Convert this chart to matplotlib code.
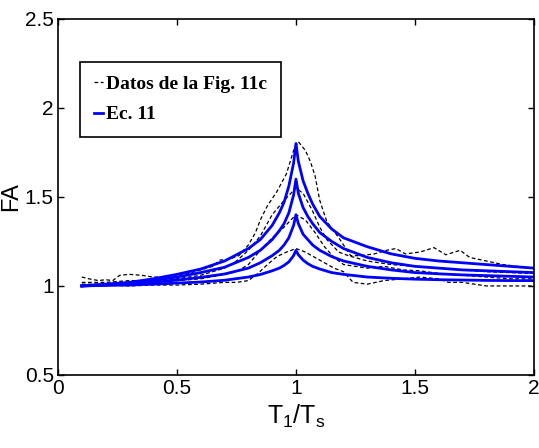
import numpy as np
import matplotlib
matplotlib.use("Agg")
import matplotlib.pyplot as plt

plt.rcParams['font.family'] = ['Liberation Sans', 'DejaVu Sans']
plt.rcParams['mathtext.fontset'] = 'custom'
plt.rcParams['mathtext.rm'] = 'Liberation Sans'

# Ec. 11 curves (blue)
x_eq = [0.1, 0.2, 0.3, 0.4, 0.5, 0.6, 0.7, 0.8, 0.85, 0.9, 0.93, 0.95, 0.97, 0.99, 1.0,
        1.01, 1.03, 1.05, 1.07, 1.1, 1.15, 1.2, 1.3, 1.4, 1.5, 1.6, 1.7, 1.8, 1.9, 2.0]
eq_18 = [1.00, 1.01, 1.02, 1.04, 1.065, 1.095, 1.14, 1.21, 1.26, 1.34, 1.41, 1.47, 1.56, 1.69, 1.80,
         1.70, 1.59, 1.52, 1.46, 1.39, 1.32, 1.27, 1.22, 1.18, 1.155, 1.14, 1.13, 1.12, 1.11, 1.10]
eq_16 = [1.00, 1.008, 1.016, 1.03, 1.05, 1.075, 1.105, 1.16, 1.20, 1.26, 1.31, 1.35, 1.41, 1.51, 1.60,
         1.52, 1.44, 1.39, 1.35, 1.30, 1.25, 1.21, 1.16, 1.13, 1.11, 1.10, 1.09, 1.085, 1.08, 1.075]
eq_14 = [1.00, 1.005, 1.01, 1.02, 1.033, 1.048, 1.067, 1.10, 1.13, 1.17, 1.20, 1.23, 1.27, 1.34, 1.40,
         1.35, 1.29, 1.26, 1.23, 1.20, 1.165, 1.14, 1.11, 1.09, 1.075, 1.068, 1.062, 1.058, 1.054, 1.05]
eq_12 = [1.00, 1.003, 1.005, 1.01, 1.016, 1.022, 1.032, 1.05, 1.064, 1.085, 1.10, 1.115, 1.135, 1.17, 1.20,
         1.175, 1.145, 1.125, 1.11, 1.095, 1.075, 1.065, 1.05, 1.043, 1.038, 1.035, 1.033, 1.031, 1.03, 1.03]

# Datos de la Fig. 11c (black dashed)
xa = [0.1, 0.13, 0.17, 0.2, 0.23, 0.26, 0.3, 0.35, 0.4, 0.45, 0.5, 0.55, 0.6, 0.65, 0.68,
      0.72, 0.76, 0.8, 0.83, 0.85, 0.88, 0.92, 0.96, 0.99, 1.01, 1.04, 1.06, 1.08, 1.1, 1.13,
      1.18, 1.23, 1.27, 1.33, 1.38, 1.42, 1.46, 1.52, 1.58, 1.63, 1.69, 1.73, 1.8, 1.87, 1.93, 2.0]
ya = [1.05, 1.04, 1.03, 1.035, 1.03, 1.06, 1.065, 1.06, 1.05, 1.05, 1.06, 1.07, 1.09, 1.11, 1.145,
      1.15, 1.17, 1.23, 1.30, 1.37, 1.45, 1.53, 1.63, 1.76, 1.81, 1.76, 1.70, 1.62, 1.48, 1.36,
      1.27, 1.17, 1.17, 1.18, 1.20, 1.21, 1.18, 1.19, 1.215, 1.175, 1.20, 1.16, 1.14, 1.12, 1.11, 1.10]

xb = [0.1, 0.2, 0.3, 0.4, 0.5, 0.6, 0.65, 0.7, 0.75, 0.8, 0.85, 0.9, 0.95, 1.0, 1.03, 1.07,
      1.1, 1.13, 1.18, 1.22, 1.3, 1.4, 1.5, 1.6, 1.7, 1.8, 1.9, 2.0]
yb = [1.02, 1.02, 1.03, 1.03, 1.04, 1.06, 1.08, 1.10, 1.14, 1.20, 1.28, 1.40, 1.48, 1.55, 1.52, 1.42,
      1.33, 1.26, 1.19, 1.17, 1.14, 1.12, 1.11, 1.10, 1.09, 1.08, 1.075, 1.07]

xc = [0.1, 0.2, 0.3, 0.4, 0.5, 0.6, 0.7, 0.75, 0.8, 0.85, 0.9, 0.95, 1.0, 1.04, 1.08, 1.12,
      1.16, 1.2, 1.25, 1.3, 1.37, 1.45, 1.52, 1.6, 1.7, 1.8, 1.9, 2.0]
yc = [1.01, 1.01, 1.015, 1.02, 1.03, 1.04, 1.065, 1.08, 1.12, 1.20, 1.27, 1.33, 1.40, 1.37, 1.30, 1.22,
      1.16, 1.12, 1.11, 1.10, 1.11, 1.09, 1.085, 1.07, 1.06, 1.05, 1.04, 1.04]

xd = [0.1, 0.2, 0.3, 0.4, 0.5, 0.6, 0.65, 0.7, 0.75, 0.8, 0.84, 0.88, 0.92, 0.96, 1.0, 1.04,
      1.08, 1.12, 1.16, 1.2, 1.24, 1.3, 1.37, 1.45, 1.52, 1.6, 1.64, 1.7, 1.75, 1.8, 1.9, 2.0]
yd = [1.00, 1.005, 1.0, 1.005, 1.005, 1.01, 1.015, 1.02, 1.02, 1.03, 1.07, 1.12, 1.165, 1.19, 1.21, 1.19,
      1.16, 1.13, 1.10, 1.08, 1.02, 1.01, 1.03, 1.04, 1.05, 1.04, 1.02, 1.02, 1.01, 1.0, 1.0, 1.0]

fig = plt.figure(figsize=(5.39, 4.48), dpi=100)
ax = fig.add_axes([0.1076, 0.163, 0.883, 0.795])

dash = dict(color='black', linestyle=(0, (3, 2)), linewidth=0.9)
ax.plot(xa, ya, label='Datos de la Fig. 11c', **dash)
ax.plot(xb, yb, **dash)
ax.plot(xc, yc, **dash)
ax.plot(xd, yd, **dash)

blue = dict(color='#0000ff', linewidth=2.0)
ax.plot(x_eq, eq_18, label='Ec. 11', **blue)
ax.plot(x_eq, eq_16, **blue)
ax.plot(x_eq, eq_14, **blue)
ax.plot(x_eq, eq_12, **blue)

ax.set_xlim(0, 2)
ax.set_ylim(0.5, 2.5)
ax.set_xticks([0, 0.5, 1, 1.5, 2])
ax.set_xticklabels(['0', '0.5', '1', '1.5', '2'])
ax.set_yticks([0.5, 1, 1.5, 2, 2.5])
ax.set_yticklabels(['0.5', '1', '1.5', '2', '2.5'])
ax.tick_params(direction='in', top=True, right=True, length=4, width=1,
               labelsize=15, pad=3)
for s in ax.spines.values():
    s.set_linewidth(1.2)

ax.set_ylabel('FA', fontsize=17, labelpad=2)
ax.set_xlabel(r'T$_1$/T$_\mathregular{s}$', fontsize=18, labelpad=3)

leg = ax.legend(loc='upper left', bbox_to_anchor=(0.046, 0.879),
                prop={'family': ['Liberation Serif', 'DejaVu Serif'], 'weight': 'bold', 'size': 14},
                handlelength=0.5, handletextpad=0.15, borderpad=0.7, labelspacing=0.65,
                borderaxespad=0, fancybox=False, framealpha=1)
leg.get_frame().set_edgecolor('black')
leg.get_frame().set_linewidth(1.2)

fig.savefig('out.png', dpi=100)
